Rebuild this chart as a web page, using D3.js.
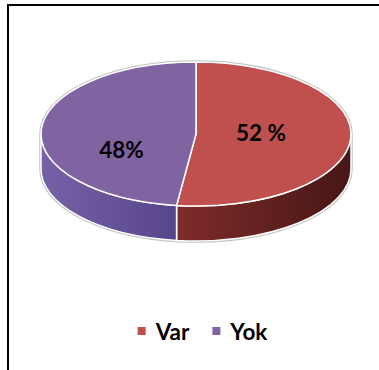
<!DOCTYPE html>
<html>
<head>
<meta charset="utf-8">
<script src="https://cdn.jsdelivr.net/npm/d3@7"></script>
<style>
  html, body { margin: 0; padding: 0; background: #fff; }
  svg { display: block; }
</style>
</head>
<body>
<svg id="chart" width="379" height="370"></svg>
<script>
// Chart data
const categories = ["Var", "Yok"];
const values = [52, 48];
const valueLabels = ["52 %", "48%"];
const topColors = ["#C0504D", "#8064A2"];
const sideColorsLight = ["#7e2b2a", "#7662a6"];
const sideColorsDark = ["#461616", "#56448a"];

const W = 379, H = 370;
const svg = d3.select("#chart");

// Frame around the chart area
svg.append("rect")
  .attr("x", 8).attr("y", 5)
  .attr("width", 420).attr("height", 420)
  .attr("fill", "none")
  .attr("stroke", "#000")
  .attr("stroke-width", 2);

// 3D pie geometry
const cx = 196, cy = 134, rx = 155, ry = 72, depth = 35;

const pie = d3.pie().sort(null).value(d => d)
  .startAngle(0).endAngle(2 * Math.PI);
const arcs = pie(values);

const px = a => cx + rx * Math.sin(a);
const py = a => cy - ry * Math.cos(a);

function topPath(d) {
  const a0 = d.startAngle, a1 = d.endAngle;
  const large = (a1 - a0) > Math.PI ? 1 : 0;
  return `M${cx},${cy}L${px(a0)},${py(a0)}` +
    `A${rx},${ry} 0 ${large} 1 ${px(a1)},${py(a1)}Z`;
}

function sidePath(d) {
  // only the front half (angles between 90° and 270°) is visible
  const a0 = Math.max(d.startAngle, Math.PI / 2);
  const a1 = Math.min(d.endAngle, 3 * Math.PI / 2);
  if (a1 <= a0) return null;
  const large = (a1 - a0) > Math.PI ? 1 : 0;
  return `M${px(a0)},${py(a0)}` +
    `A${rx},${ry} 0 ${large} 1 ${px(a1)},${py(a1)}` +
    `L${px(a1)},${py(a1) + depth}` +
    `A${rx},${ry} 0 ${large} 0 ${px(a0)},${py(a0) + depth}Z`;
}

const defs = svg.append("defs");
arcs.forEach((d, i) => {
  const g = defs.append("linearGradient")
    .attr("id", "side" + i)
    .attr("gradientUnits", "userSpaceOnUse")
    .attr("x1", cx - rx).attr("x2", cx + rx)
    .attr("y1", 0).attr("y2", 0);
  if (i === 0) {
    g.append("stop").attr("offset", 0.45).attr("stop-color", sideColorsLight[i]);
    g.append("stop").attr("offset", 1).attr("stop-color", sideColorsDark[i]);
  } else {
    g.append("stop").attr("offset", 0).attr("stop-color", sideColorsLight[i]);
    g.append("stop").attr("offset", 0.45).attr("stop-color", sideColorsDark[i]);
  }
});

// soft grey halo around the whole disc
const outline = `M${cx - rx},${cy}` +
  `A${rx},${ry} 0 1 1 ${cx + rx},${cy}` +
  `L${cx + rx},${cy + depth}` +
  `A${rx},${ry} 0 0 1 ${cx - rx},${cy + depth}Z`;
svg.append("path")
  .attr("d", outline)
  .attr("fill", "none")
  .attr("stroke", "#c4c4c4")
  .attr("stroke-width", 3.5);

const pieG = svg.append("g");

// sides
arcs.forEach((d, i) => {
  const p = sidePath(d);
  if (!p) return;
  pieG.append("path")
    .attr("d", p)
    .attr("fill", `url(#side${i})`)
    .attr("stroke", "#fff")
    .attr("stroke-width", 1.5)
    .attr("stroke-linejoin", "round");
});

// tops
pieG.selectAll("path.top")
  .data(arcs)
  .join("path")
  .attr("class", "top")
  .attr("d", topPath)
  .attr("fill", (d, i) => topColors[i])
  .attr("stroke", "#fff")
  .attr("stroke-width", 1.5)
  .attr("stroke-linejoin", "round");

// value labels
const labelPos = [[261, 141], [121.5, 158]];
svg.selectAll("text.val")
  .data(arcs)
  .join("text")
  .attr("class", "val")
  .attr("x", (d, i) => labelPos[i][0])
  .attr("y", (d, i) => labelPos[i][1])
  .attr("text-anchor", "middle")
  .attr("font-family", "Lato, 'Open Sans', sans-serif")
  .attr("font-weight", "bold")
  .attr("font-size", 22.5)
  .attr("fill", "#000")
  .text((d, i) => valueLabels[i]);

// legend
const legend = svg.append("g");
const items = legend.selectAll("g")
  .data(categories)
  .join("g");
items.append("rect")
  .attr("width", 8).attr("height", 8)
  .attr("y", 327)
  .attr("fill", (d, i) => topColors[i]);
items.append("text")
  .attr("x", 18)
  .attr("y", 339.5)
  .attr("font-family", "Lato, 'Open Sans', sans-serif")
  .attr("font-weight", "bold")
  .attr("font-size", 22.5)
  .attr("fill", "#000")
  .text(d => d);

let xPos = 0;
const widths = [];
items.each(function () {
  widths.push(d3.select(this).select("text").node().getComputedTextLength() + 18);
});
const gap = 23;
const total = widths.reduce((a, b) => a + b, 0) + gap * (widths.length - 1);
xPos = 202.5 - total / 2;
items.each(function (d, i) {
  d3.select(this).attr("transform", `translate(${xPos},0)`);
  xPos += widths[i] + gap;
});
</script>
</body>
</html>
